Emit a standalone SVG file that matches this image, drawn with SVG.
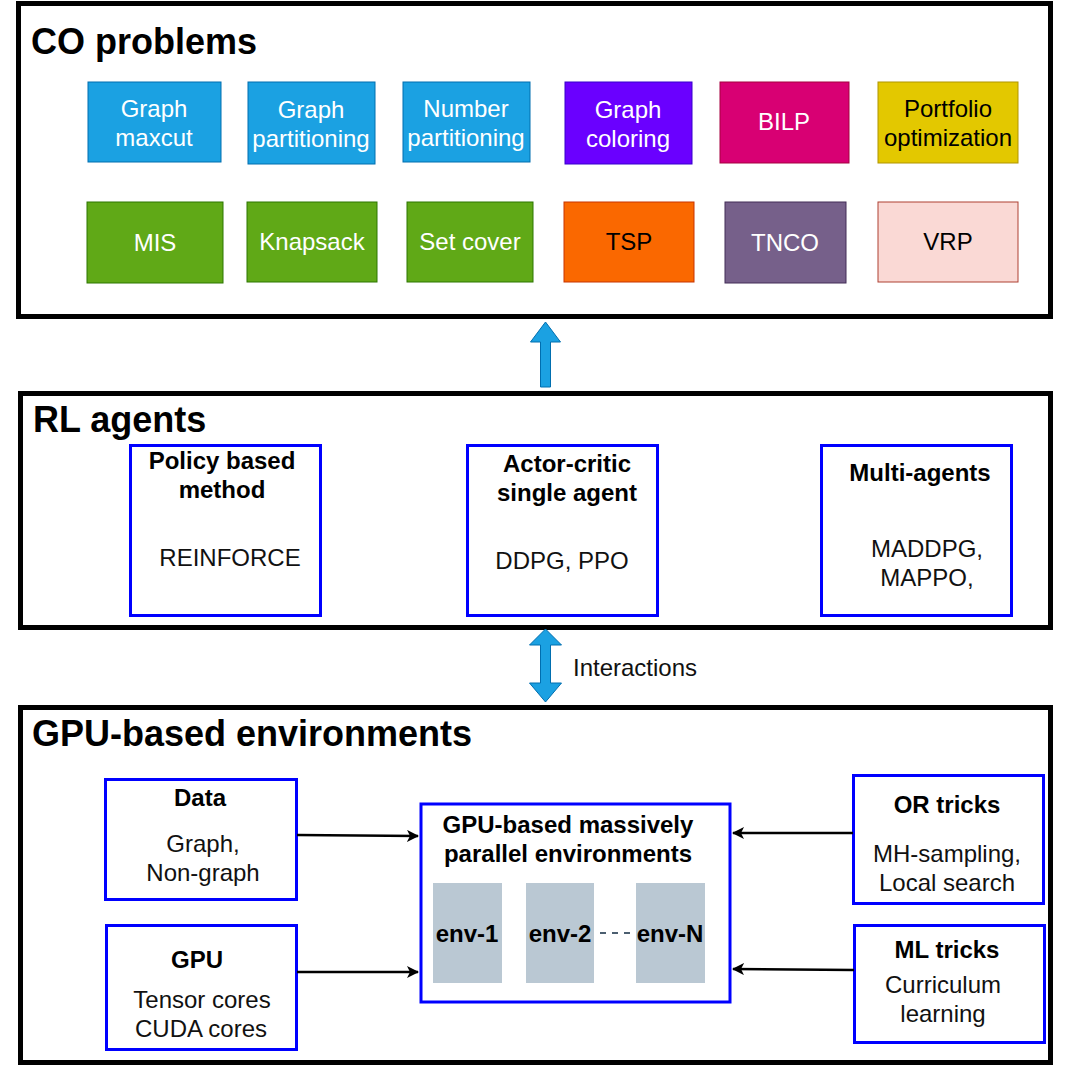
<svg xmlns="http://www.w3.org/2000/svg" width="1073" height="1066" viewBox="0 0 1073 1066">
<style>
text{font-family:"Liberation Sans",Arial,sans-serif;}
.title{font-size:36px;font-weight:bold;fill:#000;}
.co{font-size:24px;text-anchor:middle;}
.w{fill:#fff;}
.k{fill:#000;}
.frame{fill:#fff;stroke:#000;stroke-width:5;}
.bx{fill:#fff;stroke:#0000ff;stroke-width:3;}
.hd{font-size:24px;font-weight:bold;text-anchor:middle;fill:#000;}
.tx{font-size:24px;text-anchor:middle;fill:#111;}
.env{fill:#bac8d3;}
.conn{stroke:#000;stroke-width:2.5;fill:none;}
.barrow{fill:#1ba1e2;stroke:#006eaf;stroke-width:1;}
</style>
<defs>
<marker id="ah" markerWidth="12" markerHeight="12" viewBox="0 0 12 12" refX="11" refY="6" orient="auto" markerUnits="userSpaceOnUse">
<path d="M0,0 L12,6 L0,12 L3,6 Z" fill="#000"/>
</marker>
</defs>
<rect width="1073" height="1066" fill="#fff"/>

<g id="co-problems">
<rect class="frame" x="18.5" y="3.5" width="1032" height="313"/>
<text class="title" x="31" y="54">CO problems</text>
</g>
<g id="graph-maxcut"><rect x="88" y="82" width="133" height="80" fill="#1ba1e2" stroke="#006eaf"/><text class="co w" x="154" y="117">Graph</text><text class="co w" x="154" y="146">maxcut</text></g>
<g id="graph-partitioning"><rect x="248" y="82" width="127" height="82" fill="#1ba1e2" stroke="#006eaf"/><text class="co w" x="311" y="118">Graph</text><text class="co w" x="311" y="147">partitioning</text></g>
<g id="number-partitioning"><rect x="403" y="82" width="127" height="80" fill="#1ba1e2" stroke="#006eaf"/><text class="co w" x="466" y="117">Number</text><text class="co w" x="466" y="146">partitioning</text></g>
<g id="graph-coloring"><rect x="565" y="82" width="127" height="82" fill="#6a00ff" stroke="#3700cc"/><text class="co w" x="628" y="118">Graph</text><text class="co w" x="628" y="147">coloring</text></g>
<g id="bilp"><rect x="720" y="82" width="129" height="81" fill="#d80073" stroke="#a50040"/><text class="co w" x="784" y="130">BILP</text></g>
<g id="portfolio"><rect x="878" y="82" width="140" height="81" fill="#e3c800" stroke="#b09500"/><text class="co k" x="948" y="117">Portfolio</text><text class="co k" x="948" y="146">optimization</text></g>
<g id="mis"><rect x="87" y="202" width="136" height="81" fill="#60a917" stroke="#2d7600"/><text class="co w" x="155" y="251">MIS</text></g>
<g id="knapsack"><rect x="247" y="202" width="130" height="80" fill="#60a917" stroke="#2d7600"/><text class="co w" x="312" y="250">Knapsack</text></g>
<g id="set-cover"><rect x="407" y="202" width="126" height="80" fill="#60a917" stroke="#2d7600"/><text class="co w" x="470" y="250">Set cover</text></g>
<g id="tsp"><rect x="564" y="202" width="130" height="80" fill="#fa6800" stroke="#c73500"/><text class="co k" x="629" y="250">TSP</text></g>
<g id="tnco"><rect x="725" y="202" width="121" height="81" fill="#76608a" stroke="#432d57"/><text class="co w" x="785" y="251">TNCO</text></g>
<g id="vrp"><rect x="878" y="202" width="140" height="80" fill="#fad9d5" stroke="#ae4132"/><text class="co k" x="948" y="250">VRP</text></g>

<g id="rl-agents">
<rect class="frame" x="20.5" y="393.5" width="1030" height="234"/>
<text class="title" x="33" y="432">RL agents</text>
</g>
<g id="policy-based"><rect class="bx" x="130.5" y="445.5" width="190" height="170"/><text class="hd" x="222" y="469">Policy based</text><text class="hd" x="222" y="498">method</text><text class="tx" x="230" y="566">REINFORCE</text></g>
<g id="actor-critic"><rect class="bx" x="467.5" y="445.5" width="190" height="170"/><text class="hd" x="567" y="472">Actor-critic</text><text class="hd" x="567" y="501">single agent</text><text class="tx" x="562" y="569">DDPG, PPO</text></g>
<g id="multi-agents"><rect class="bx" x="821.5" y="445.5" width="190" height="170"/><text class="hd" x="920" y="481">Multi-agents</text><text class="tx" x="927" y="557">MADDPG,</text><text class="tx" x="927" y="586">MAPPO,</text></g>

<g id="gpu-environments">
<rect class="frame" x="20.5" y="707.5" width="1030" height="355"/>
<text class="title" x="32" y="746">GPU-based environments</text>
</g>
<g id="data"><rect class="bx" x="105.5" y="779.5" width="191" height="120" stroke-width="2.5"/><text class="hd" x="200" y="806">Data</text><text class="tx" x="203" y="852">Graph,</text><text class="tx" x="203" y="881">Non-graph</text></g>
<g id="gpu"><rect class="bx" x="106.5" y="925.5" width="190" height="124"/><text class="hd" x="197" y="968">GPU</text><text class="tx" x="202" y="1008">Tensor cores</text><text class="tx" x="201" y="1037">CUDA cores</text></g>
<g id="parallel-envs">
<rect class="bx" x="421" y="804" width="309" height="198" stroke-width="5"/>
<text class="hd" x="568" y="833">GPU-based massively</text>
<text class="hd" x="568" y="862">parallel environments</text>
</g>
<g id="env-1"><rect class="env" x="433" y="883" width="69" height="100"/><text class="hd" x="467" y="942">env-1</text></g>
<g id="env-2"><rect class="env" x="526" y="883" width="68" height="100"/><text class="hd" x="560" y="942">env-2</text></g>
<g id="env-n"><rect class="env" x="636" y="883" width="69" height="100"/><text class="hd" x="670" y="942">env-N</text></g>
<g id="or-tricks"><rect class="bx" x="853.5" y="775.5" width="190" height="128"/><text class="hd" x="947" y="813">OR tricks</text><text class="tx" x="947" y="862">MH-sampling,</text><text class="tx" x="947" y="891">Local search</text></g>
<g id="ml-tricks"><rect class="bx" x="854.5" y="925.5" width="190" height="117"/><text class="hd" x="947" y="958">ML tricks</text><text class="tx" x="943" y="993">Curriculum</text><text class="tx" x="943" y="1022">learning</text></g>

<g id="connectors">
<path class="barrow" d="M540.5,387 L540.5,342 L530.5,342 L545.5,322 L560.5,342 L550.5,342 L550.5,387 Z"/>
<path class="barrow" d="M545.5,629 L561.5,645 L550.5,645 L550.5,683 L561.5,683 L545.5,702 L529.5,683 L540.5,683 L540.5,645 L529.5,645 Z"/>
<text x="573" y="676" font-size="24" fill="#111">Interactions</text>
<line x1="600" y1="933" x2="632" y2="933" stroke="#4b5f70" stroke-width="2" stroke-dasharray="6 6"/>
<line class="conn" x1="297" y1="835" x2="418" y2="836" marker-end="url(#ah)"/>
<line class="conn" x1="297" y1="972" x2="418" y2="972" marker-end="url(#ah)"/>
<line class="conn" x1="853" y1="833" x2="733" y2="833" marker-end="url(#ah)"/>
<line class="conn" x1="854" y1="970" x2="733" y2="969" marker-end="url(#ah)"/>
</g>
</svg>
